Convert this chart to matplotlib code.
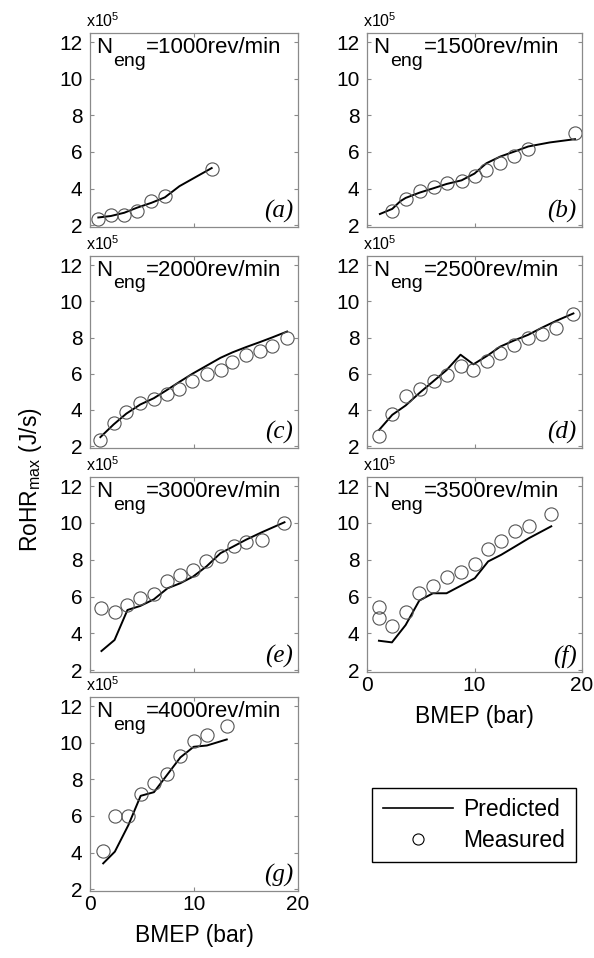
import matplotlib
matplotlib.use("Agg")
import matplotlib.pyplot as plt
from matplotlib.lines import Line2D

plt.rcParams["font.family"] = ["Liberation Sans", "DejaVu Sans"]
plt.rcParams["mathtext.fontset"] = "custom"
plt.rcParams["mathtext.rm"] = "Liberation Sans"
plt.rcParams["mathtext.it"] = "Liberation Sans:italic"

# RoHR_max in units of 1e5 J/s, BMEP in bar
# (a) 1000 rev/min
a_meas_x = [0.8, 2.0, 3.3, 4.5, 5.9, 7.2, 11.7]
a_meas_y = [2.31, 2.58, 2.55, 2.80, 3.31, 3.58, 5.09]
a_pred_x = [0.8, 2.0, 3.3, 4.5, 5.9, 7.2, 8.6, 11.7]
a_pred_y = [2.42, 2.50, 2.68, 2.95, 3.22, 3.52, 4.13, 5.12]
# (b) 1500 rev/min
b_meas_x = [2.35, 3.6, 4.9, 6.2, 7.4, 8.8, 10.0, 11.1, 12.4, 13.7, 15.0, 19.35]
b_meas_y = [2.80, 3.45, 3.85, 4.09, 4.31, 4.40, 4.68, 5.04, 5.37, 5.77, 6.17, 7.01]
b_pred_x = [1.2, 2.35, 3.1, 3.6, 4.9, 6.2, 7.4, 8.8, 10.0, 11.1, 12.4, 13.7, 15.0, 17.0, 19.35]
b_pred_y = [2.61, 2.89, 3.31, 3.49, 3.78, 4.02, 4.25, 4.45, 4.82, 5.38, 5.75, 6.02, 6.30, 6.52, 6.70]
# (c) 2000 rev/min
c_meas_x = [1.0, 2.27, 3.5, 4.83, 6.14, 7.39, 8.6, 9.85, 11.23, 12.55, 13.7, 15.0, 16.3, 17.5, 18.95]
c_meas_y = [2.32, 3.27, 3.91, 4.37, 4.60, 4.88, 5.15, 5.59, 5.97, 6.19, 6.65, 7.01, 7.23, 7.53, 7.98]
c_pred_x = c_meas_x
c_pred_y = [2.50, 3.20, 3.80, 4.30, 4.65, 5.10, 5.55, 6.00, 6.45, 6.88, 7.18, 7.47, 7.74, 8.00, 8.33]
# (d) 2500 rev/min
d_meas_x = [1.13, 2.35, 3.6, 4.9, 6.2, 7.4, 8.7, 9.9, 11.2, 12.4, 13.7, 15.0, 16.3, 17.6, 19.2]
d_meas_y = [2.54, 3.76, 4.79, 5.13, 5.59, 5.92, 6.41, 6.23, 6.70, 7.16, 7.56, 7.96, 8.20, 8.51, 9.30]
d_pred_x = d_meas_x
d_pred_y = [2.90, 3.73, 4.25, 4.95, 5.60, 6.20, 7.05, 6.52, 7.00, 7.50, 7.84, 8.15, 8.55, 8.92, 9.33]
# (e) 3000 rev/min
e_meas_x = [1.1, 2.36, 3.6, 4.83, 6.14, 7.45, 8.7, 9.92, 11.2, 12.55, 13.8, 15.0, 16.5, 18.7]
e_meas_y = [5.40, 5.18, 5.55, 5.91, 6.13, 6.82, 7.18, 7.45, 7.96, 8.18, 8.73, 8.95, 9.05, 10.0]
e_pred_x = e_meas_x
e_pred_y = [3.04, 3.64, 5.27, 5.49, 5.85, 6.45, 6.73, 7.09, 7.64, 8.36, 8.73, 9.09, 9.49, 10.04]
# (f) 3500 rev/min
f_meas_x = [1.11, 1.11, 2.32, 3.59, 4.86, 6.13, 7.4, 8.76, 10.03, 11.27, 12.48, 13.8, 15.08, 17.14]
f_meas_y = [5.42, 4.82, 4.42, 5.18, 6.18, 6.60, 7.09, 7.36, 7.78, 8.60, 9.00, 9.58, 9.82, 10.49]
f_pred_x = [1.11, 2.32, 3.59, 4.86, 6.13, 7.4, 8.76, 10.03, 11.27, 12.48, 13.8, 15.08, 17.14]
f_pred_y = [3.60, 3.51, 4.45, 5.78, 6.18, 6.18, 6.60, 7.00, 7.91, 8.27, 8.73, 9.18, 9.82]
# (g) 4000 rev/min
g_meas_x = [1.27, 2.39, 3.69, 4.87, 6.15, 7.42, 8.69, 9.97, 11.24, 13.15]
g_meas_y = [4.09, 6.01, 6.01, 7.20, 7.80, 8.30, 9.30, 10.12, 10.40, 10.91]
g_pred_x = g_meas_x
g_pred_y = [3.41, 4.05, 5.50, 7.10, 7.30, 8.25, 9.20, 9.78, 9.85, 10.18]

speeds = [1000, 1500, 2000, 2500, 3000, 3500, 4000]
letters = ["a", "b", "c", "d", "e", "f", "g"]
yticks = [2, 4, 6, 8, 10, 12]
xticks = [0, 10, 20]

panels = [
    (a_meas_x, a_meas_y, a_pred_x, a_pred_y),
    (b_meas_x, b_meas_y, b_pred_x, b_pred_y),
    (c_meas_x, c_meas_y, c_pred_x, c_pred_y),
    (d_meas_x, d_meas_y, d_pred_x, d_pred_y),
    (e_meas_x, e_meas_y, e_pred_x, e_pred_y),
    (f_meas_x, f_meas_y, f_pred_x, f_pred_y),
    (g_meas_x, g_meas_y, g_pred_x, g_pred_y),
]

W, H = 594, 958
fig = plt.figure(figsize=(W / 100, H / 100), dpi=100)

# axes boxes in pixels (left/right per column, top/bottom per row)
COL_X = [(90, 298), (367, 582)]
ROW_Y = [(33, 227), (256, 448), (477, 672), (697, 891)]
BOX = "#8a8a8a"

for i, (mx, my, px, py) in enumerate(panels):
    row, col = divmod(i, 2)
    x0, x1 = COL_X[col]
    y0, y1 = ROW_Y[row]
    ax = fig.add_axes([x0 / W, 1 - y1 / H, (x1 - x0) / W, (y1 - y0) / H])

    ax.plot(px, py, color="black", lw=1.4)
    ax.plot(mx, my, "o", mfc="none", mec="#555555", ms=9.5, mew=0.8)

    ax.set_xlim(0, 20)
    ax.set_ylim(1.9, 12.5)
    ax.set_xticks(xticks)
    ax.set_yticks(yticks)
    ax.tick_params(direction="in", top=True, right=True, length=3, width=0.8,
                   color=BOX, labelsize=15)
    ax.tick_params(axis="y", pad=5.5)
    ax.tick_params(axis="x", pad=3)
    for sp in ax.spines.values():
        sp.set_color(BOX)
        sp.set_linewidth(0.9)

    bottom = letters[i] in ("f", "g")
    if bottom:
        ax.set_xlabel("BMEP (bar)", fontsize=16.5, labelpad=7)
    else:
        ax.tick_params(labelbottom=False)

    ax.text(-0.02, 1.015, r"x10$^{5}$", transform=ax.transAxes, fontsize=11.5,
            ha="left", va="bottom")

    t1 = ax.text(0.03, 0.897, "N", transform=ax.transAxes, fontsize=16,
                 ha="left", va="baseline")
    t2 = ax.annotate("eng", xy=(1, 0), xycoords=t1, xytext=(0.3, -5.5),
                     textcoords="offset points", fontsize=14, ha="left", va="baseline")
    ax.annotate(f"={speeds[i]}rev/min", xy=(1, 0), xycoords=(t2, t1),
                xytext=(0.5, 0), textcoords="offset points", fontsize=16,
                ha="left", va="bottom")

    ax.text(0.976, 0.02, f"({letters[i]})", transform=ax.transAxes,
            fontsize=18, family=["Liberation Serif"], style="italic",
            ha="right", va="bottom")

fig.text(30 / W, 1 - 480 / H, r"RoHR$_{\rm max}$ (J/s)", rotation=90,
         fontsize=16.5, ha="center", va="center")

handles = [
    Line2D([], [], color="black", lw=1.2),
    Line2D([], [], ls="none", marker="o", mfc="none", mec="black", ms=8, mew=0.8),
]
leg = fig.legend(handles, ["Predicted", "Measured"], loc="center",
                 bbox_to_anchor=(474 / W, 1 - 825 / H), fontsize=16.5,
                 handlelength=3.05, handletextpad=0.48, borderpad=0.45,
                 labelspacing=0.32, frameon=True, fancybox=False,
                 edgecolor="black", framealpha=1)
leg.get_frame().set_linewidth(1.0)

fig.savefig("out.png", dpi=100)
